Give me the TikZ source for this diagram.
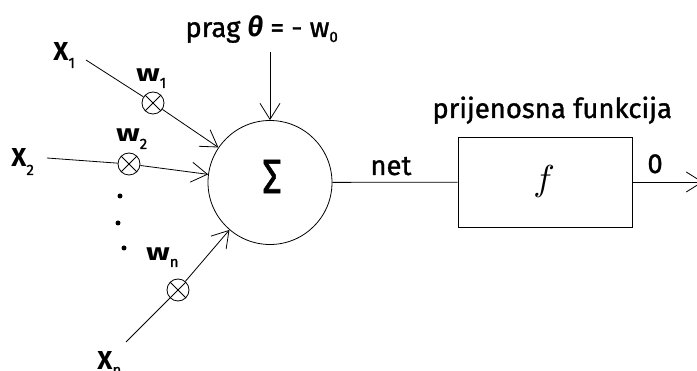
\documentclass[tikz,border=0pt]{standalone}
\usepackage{fontspec}
\setmainfont{Fira Sans}[UprightFeatures={FakeBold=1.2}]
\usetikzlibrary{arrows.meta}
\newcommand\lsub[2]{\raisebox{-#1pt}{\mdseries\fontsize{15}{15}\selectfont #2}}
\newcommand\wideW{\scalebox{1.3}[1]{w}}
\begin{document}
\begin{tikzpicture}[x=1pt,y=-1pt,line width=0.8pt,
  lbl/.style={anchor=base west,inner sep=0pt,font=\fontsize{27.5}{28}\selectfont},
  xlbl/.style={anchor=base west,inner sep=0pt,font=\bfseries\fontsize{26}{26}\selectfont},
  wlbl/.style={anchor=base west,inner sep=0pt,font=\bfseries\fontsize{24}{24}\selectfont},
  arr/.style={-{Straight Barb[length=16pt,width=20pt,line width=0.8pt]}},
  sumc/.style={draw,circle,minimum size=124pt,inner sep=0pt},
  tfbox/.style={draw,rectangle,minimum width=174pt,minimum height=90pt,inner sep=0pt},
  mult/.style={draw,circle,minimum size=22pt,inner sep=0pt,
    path picture={\draw[line width=0.8pt] (path picture bounding box.north west) -- (path picture bounding box.south east)
      (path picture bounding box.north east) -- (path picture bounding box.south west);}},
  dotn/.style={fill,circle,minimum size=5pt,inner sep=0pt}]
\useasboundingbox (0,0) rectangle (697,371);
% main blocks
\node[sumc] (sum) at (270,182.5) {};
\node[inner sep=0pt,font=\fontsize{48}{50}\selectfont] (sigma) at (272,176.5) {\scalebox{0.8}[1]{Σ}};
\node[tfbox] (tf) at (545,182) {};
\node[inner sep=0pt] (fsym) at (544,181.5) {\scalebox{3.6}{$f$}};
% multipliers
\node[mult] (m1) at (153,103) {};
\node[mult] (m2) at (129,164) {};
\node[mult] (mn) at (178,290) {};
% dots
\node[dotn] (d1) at (120,196) {};
\node[dotn] (d2) at (118,223) {};
\node[dotn] (d3) at (124,248) {};
% labels
\node[xlbl] (x1) at (53,61) {X\lsub{7}{1}};
\node[xlbl] (x2) at (11,167) {X\lsub{8}{2}};
\node[xlbl] (xn) at (97,370) {X\lsub{5}{n}};
\node[wlbl] (w1) at (136,82) {\wideW\lsub{6}{1}};
\node[wlbl] (w2) at (116,142) {\wideW\lsub{7}{2}};
\node[wlbl] (wn) at (146,261) {\wideW\lsub{6}{n}};
\node[lbl] (prag) at (185,37) {prag \textbf{\textit{θ}} = - w\lsub{5}{0}};
\node[lbl] (net) at (370,175) {net};
\node[lbl] (pf) at (432,118) {prijenosna funkcija};
\node[lbl] (o) at (647,173) {0};
% connector endpoints
\coordinate (s1) at (86,60);
\coordinate (s2) at (47,158);
\coordinate (sn) at (126,342);
\coordinate (thtop) at (270,52);
\coordinate (out) at (703,182);
% connectors
\draw (s1) -- (m1);
\draw[arr] (m1) -- (sum);
\draw (s2) -- (m2);
\draw[arr] (m2) -- (sum);
\draw (sn) -- (mn);
\draw[arr] (mn) -- (sum);
\draw[arr] (thtop) -- (sum);
\draw (sum) -- (tf);
\draw[arr] (tf) -- (out);
\end{tikzpicture}
\end{document}
